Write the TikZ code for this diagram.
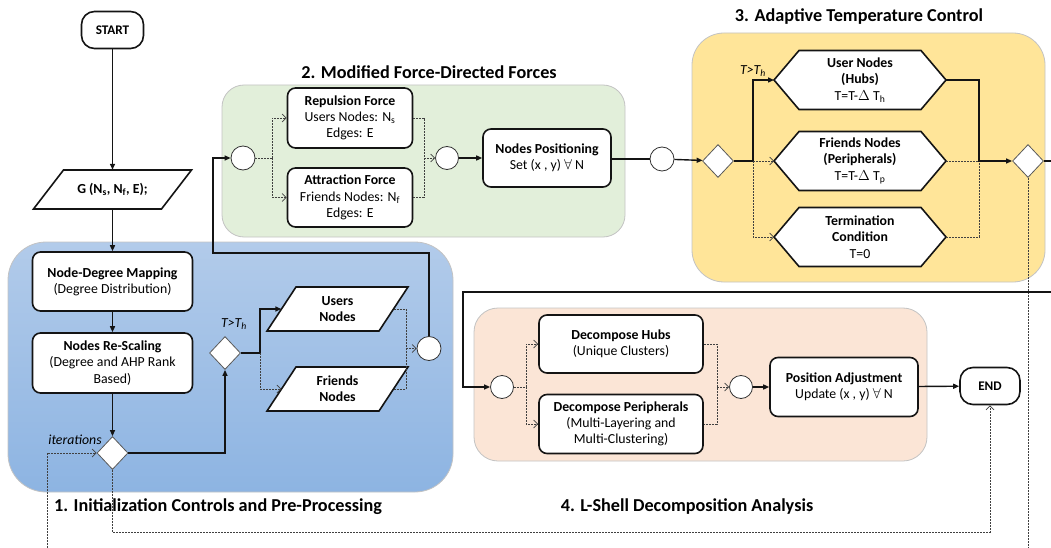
\documentclass[tikz,border=0pt]{standalone}
\usepackage{fontspec}
\setmainfont{Carlito}
\usetikzlibrary{shapes.geometric,arrows.meta}

\definecolor{blueTop}{RGB}{178,203,234}
\definecolor{blueBot}{RGB}{141,180,226}
\definecolor{greenF}{RGB}{226,239,218}
\definecolor{yellowF}{RGB}{255,229,153}
\definecolor{peachF}{RGB}{251,229,214}
\definecolor{edgeG}{RGB}{195,195,195}
\definecolor{ink}{RGB}{20,20,20}

\newcommand\myfnt{\fontsize{13.8}{16.3}\selectfont}

\tikzset{
 region/.style={draw=edgeG, line width=0.8pt, rounded corners=#1},
 box/.style={draw=ink, line width=1.6pt, rounded corners=8pt, fill=white, align=center, inner sep=2pt, font=\myfnt},
 term/.style={draw=ink, line width=1.6pt, rounded corners=13pt, fill=white, font=\bfseries\fontsize{13.2}{15}\selectfont, minimum width=62pt, minimum height=37pt, inner sep=0pt},
 shp/.style={draw=ink, line width=1.6pt, fill=white},
 txt/.style={align=center, inner sep=0pt, font=\myfnt},
 dia/.style={diamond, draw=black!65, line width=0.8pt, fill=white, minimum width=31pt, minimum height=33pt, inner sep=0pt},
 circ/.style={circle, draw=black!80, line width=0.8pt, fill=white, minimum size=24pt, inner sep=0pt},
 flow/.style={draw=ink, line width=1.4pt, -{Triangle[length=6pt,width=5pt]}},
 flowline/.style={draw=ink, line width=1.4pt},
 alt/.style={draw=black!75, line width=0.7pt, dash pattern=on 2pt off 1pt, -{Straight Barb[length=4pt,width=8pt]}},
 altline/.style={draw=black!75, line width=0.7pt, dash pattern=on 2pt off 1pt},
 title/.style={font=\bfseries\fontsize{18.2}{21}\selectfont, inner sep=0pt},
 lab/.style={font=\itshape\fontsize{13.8}{16}\selectfont, inner sep=0pt},
}

\newcommand\hexa[5]{%
  \draw[shp] (#2-#4,#3-29.5) -- (#2+#4,#3-29.5) -- (#2+#4+25,#3) -- (#2+#4,#3+29.5) -- (#2-#4,#3+29.5) -- (#2-#4-25,#3) -- cycle;
  \coordinate (#1-w) at (#2-#4-25,#3);
  \coordinate (#1-e) at (#2+#4+25,#3);
  \node[txt] (#1) at (#2,#3) {#5};
}
\newcommand\para[7]{%
  \draw[shp] (#2-#4+#6,#3-#5) -- (#2+#4+#6,#3-#5) -- (#2+#4-#6,#3+#5) -- (#2-#4-#6,#3+#5) -- cycle;
  \node[txt, minimum width=2*#4, minimum height=2*#5] (#1) at (#2,#3) {#7};
}

\begin{document}
\begin{tikzpicture}[x=1pt,y=-1pt]
\useasboundingbox (0,0) rectangle (1051,548);

% regions
\draw[region=38pt, top color=blueTop, bottom color=blueBot] (8,242) rectangle (453,492);
\draw[region=22pt, fill=greenF] (222,85) rectangle (625,237);
\draw[region=32pt, fill=yellowF] (692,33) rectangle (1045,282);
\draw[region=24pt, fill=peachF] (474,308) rectangle (927,461);

% titles
\node[title] (t1) at (218,507) {1. Initialization Controls and Pre-Processing};
\node[title] (t2) at (429,72) {2. Modified Force-Directed Forces};
\node[title] (t3) at (859,17) {3. Adaptive Temperature Control};
\node[title] (t4) at (687,507) {4. L-Shell Decomposition Analysis};

% section 1
\node[term] (start) at (112.5,30) {START};
\para{G}{112.5}{189.5}{64}{19.5}{15}{\textbf{G (N\textsubscript{s}, N\textsubscript{f}, E);}}
\node[box, minimum width=160pt, minimum height=59pt] (ndm) at (112.5,281.5) {\textbf{Node-Degree Mapping}\\(Degree Distribution)};
\node[box, minimum width=160pt, minimum height=60pt] (nrs) at (112.5,363) {\textbf{Nodes Re-Scaling}\\(Degree and AHP Rank\\Based)};
\node[dia] (d1) at (112.5,453) {};
\node[dia] (d2) at (225,353) {};
\para{users}{337.5}{309}{56}{22}{14.5}{\textbf{Users}\\\textbf{Nodes}}
\para{friends}{337.5}{389}{56}{22}{14.5}{\textbf{Friends}\\\textbf{Nodes}}
\node[circ] (cb) at (429,348.5) {};
\node[lab] (lit) at (75,440) {iterations};
\node[lab] (lt1) at (234,324) {T>T\textsubscript{h}};

% section 2
\node[circ] (c1) at (243,158) {};
\node[box, minimum width=125pt, minimum height=60pt] (rep) at (350,118) {\textbf{Repulsion Force}\\Users Nodes: N\textsubscript{s}\\Edges: E};
\node[box, minimum width=125pt, minimum height=59pt] (att) at (350,197.5) {\textbf{Attraction Force}\\Friends Nodes: N\textsubscript{f}\\Edges: E};
\node[circ, minimum size=23pt] (c2) at (447,158) {};
\node[box, minimum width=128pt, minimum height=58pt] (np) at (547,158) {\textbf{Nodes Positioning}\\Set (x , y) $\forall$ N};
\node[circ] (c3) at (662,159) {};

% section 3
\node[dia] (d3) at (718,161) {};
\hexa{hub}{860}{80}{61}{\textbf{User Nodes}\\\textbf{(Hubs)}\\T=T-$\Delta$ T\textsubscript{h}}
\hexa{frh}{860}{161}{61}{\textbf{Friends Nodes}\\\textbf{(Peripherals)}\\T=T-$\Delta$ T\textsubscript{p}}
\hexa{trm}{860}{237}{61}{\textbf{Termination}\\\textbf{Condition}\\T=0}
\node[dia] (d4) at (1028,161) {};
\node[lab] (lt2) at (753,71) {T>T\textsubscript{h}};

% section 4
\node[circ, minimum size=23pt] (c4) at (502,387) {};
\node[box, minimum width=164pt, minimum height=58pt] (dh) at (621,344) {\textbf{Decompose Hubs}\\(Unique Clusters)};
\node[box, minimum width=164pt, minimum height=59pt] (dp) at (621,424) {\textbf{Decompose Peripherals}\\(Multi-Layering and\\Multi-Clustering)};
\node[circ, minimum size=23pt] (c5) at (741,387) {};
\node[box, minimum width=148pt, minimum height=59pt] (pa) at (844,387) {\textbf{Position Adjustment}\\Update (x , y) $\forall$ N};
\node[term, minimum width=60pt] (end) at (990,386) {END};

% coordinates
\coordinate (s2) at (260,353);
\coordinate (j1) at (406,348.5);
\coordinate (k2) at (213,253);
\coordinate (s1) at (272,158);
\coordinate (j2) at (424,158);
\coordinate (s3) at (753,161);
\coordinate (j3) at (979,161);
\coordinate (r1) at (1051,161);
\coordinate (b4) at (1028,548);
\coordinate (r2) at (1051,292);
\coordinate (k3) at (463,292);
\coordinate (s4) at (526,387);
\coordinate (j4) at (717,387);
\coordinate (k4) at (112.5,532);
\coordinate (b0) at (47,548);

% connectors section 1
\draw[flow] (start) -- (G);
\draw[flow] (G) -- (ndm);
\draw[flow] (ndm) -- (nrs);
\draw[flow] (nrs) -- (d1);
\draw[flow] (d1.east) -| (d2.south);
\draw[flow] (d2.east) -- (s2) |- (users.west);
\draw[alt] (s2) |- (friends.west);
\draw[altline] (users.east) -| (j1) |- (friends.east);
\draw[alt] (j1) -- (cb.west);
\draw[flow] (cb.north) |- (k2) |- (c1.west);
\draw[alt] (b0) |- (d1.west);
\draw[alt] (d1.south) -- (k4) -| (end.south);

% connectors section 2
\draw[altline] (c1.east) -- (s1);
\draw[alt] (s1) |- (rep.west);
\draw[alt] (s1) |- (att.west);
\draw[altline] (rep.east) -| (j2) |- (att.east);
\draw[alt] (j2) -- (c2.west);
\draw[flow] (c2) -- (np);
\draw[flowline] (np.east |- c3) -- (c3);
\draw[flow] (c3) -- (d3);

% connectors section 3
\draw[flow] (d3.east) -- (s3) |- (hub-w);
\draw[alt] (s3) -- (frh-w);
\draw[alt] (s3) |- (trm-w);
\draw[altline] (frh-e) -- (j3);
\draw[altline] (trm-e) -| (j3);
\draw[flow] (hub-e) -| (j3) -- (d4.west);
\draw[flowline] (d4.east) -- (r1);
\draw[altline] (d4.south) -- (b4);

% connectors section 4
\draw[flow] (r2) -- (k3) |- (c4.west);
\draw[altline] (c4.east) -- (s4);
\draw[alt] (s4) |- (dh.west);
\draw[alt] (s4) |- (dp.west);
\draw[altline] (dh.east) -| (j4) |- (dp.east);
\draw[alt] (j4) -- (c5.west);
\draw[flow] (c5) -- (pa);
\draw[flow] (pa) -- (end);
\end{tikzpicture}
\end{document}
